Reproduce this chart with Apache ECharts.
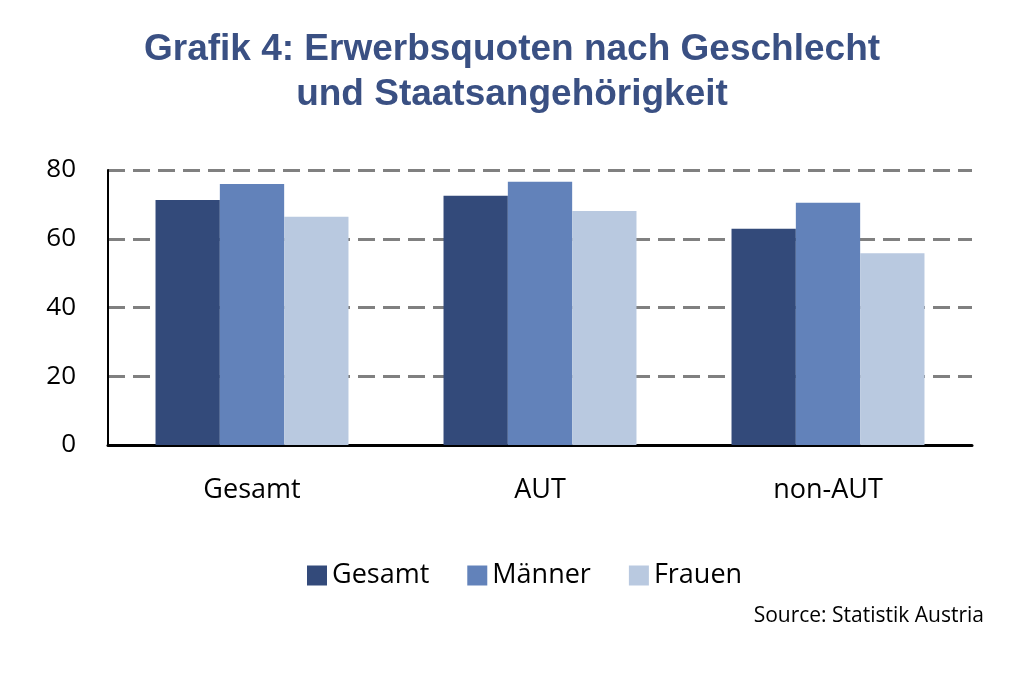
<!DOCTYPE html>
<html><head><meta charset="utf-8">
<script src="https://cdn.jsdelivr.net/npm/echarts@6/dist/echarts.min.js"></script>
<style>html,body{margin:0;padding:0;background:#fff}#c{width:1024px;height:674px}</style>
</head><body><div id="c"></div>
<script>
const categories = ['Gesamt', 'AUT', 'non-AUT'];
const seriesNames = ['Gesamt', 'Männer', 'Frauen'];
const gesamt = [71.3, 72.5, 62.9];
const maenner = [75.9, 76.6, 70.5];
const frauen = [66.4, 68.1, 55.8];
const colors = ['#334a7a', '#6282ba', '#b9c9e0'];

const chart = echarts.init(document.getElementById('c'));
const font = '"Open Sans", sans-serif';
chart.setOption({
  animation: false,
  title: {
    text: 'Grafik 4: Erwerbsquoten nach Geschlecht\nund Staatsangehörigkeit',
    left: 'center', top: 22,
    textStyle: { fontFamily: 'Liberation Sans, Arial, sans-serif', fontWeight: 'bold', fontSize: 37, color: '#3a5083', lineHeight: 45 }
  },
  legend: {
    bottom: 80, left: 302,
    icon: 'rect',
    itemWidth: 20, itemHeight: 20, itemGap: 38,
    textStyle: { fontFamily: font, fontSize: 27, color: '#000' },
    data: seriesNames
  },
  graphic: [{
    type: 'text', right: 40, top: 606,
    style: { text: 'Source: Statistik Austria', font: '21px ' + font, fill: '#000' }
  }],
  grid: { left: 108, right: 52, top: 170, bottom: 229 },
  xAxis: {
    type: 'category', data: categories,
    axisLine: { lineStyle: { color: '#000', width: 3 } },
    axisTick: { show: false },
    axisLabel: { fontFamily: font, fontSize: 27, color: '#000', margin: 32 }
  },
  yAxis: {
    type: 'value', min: 0, max: 80, interval: 20,
    axisLine: { show: true, lineStyle: { color: '#000', width: 2 } },
    axisTick: { show: false },
    axisLabel: { fontFamily: font, fontSize: 26, color: '#000', margin: 32 },
    splitLine: { lineStyle: { color: '#808080', width: 3, type: [17, 8] } }
  },
  series: [
    { name: seriesNames[0], type: 'bar', data: gesamt, itemStyle: { color: colors[0] }, barGap: '0%', barCategoryGap: '33%' },
    { name: seriesNames[1], type: 'bar', data: maenner, itemStyle: { color: colors[1] } },
    { name: seriesNames[2], type: 'bar', data: frauen, itemStyle: { color: colors[2] } }
  ]
});
</script></body></html>
